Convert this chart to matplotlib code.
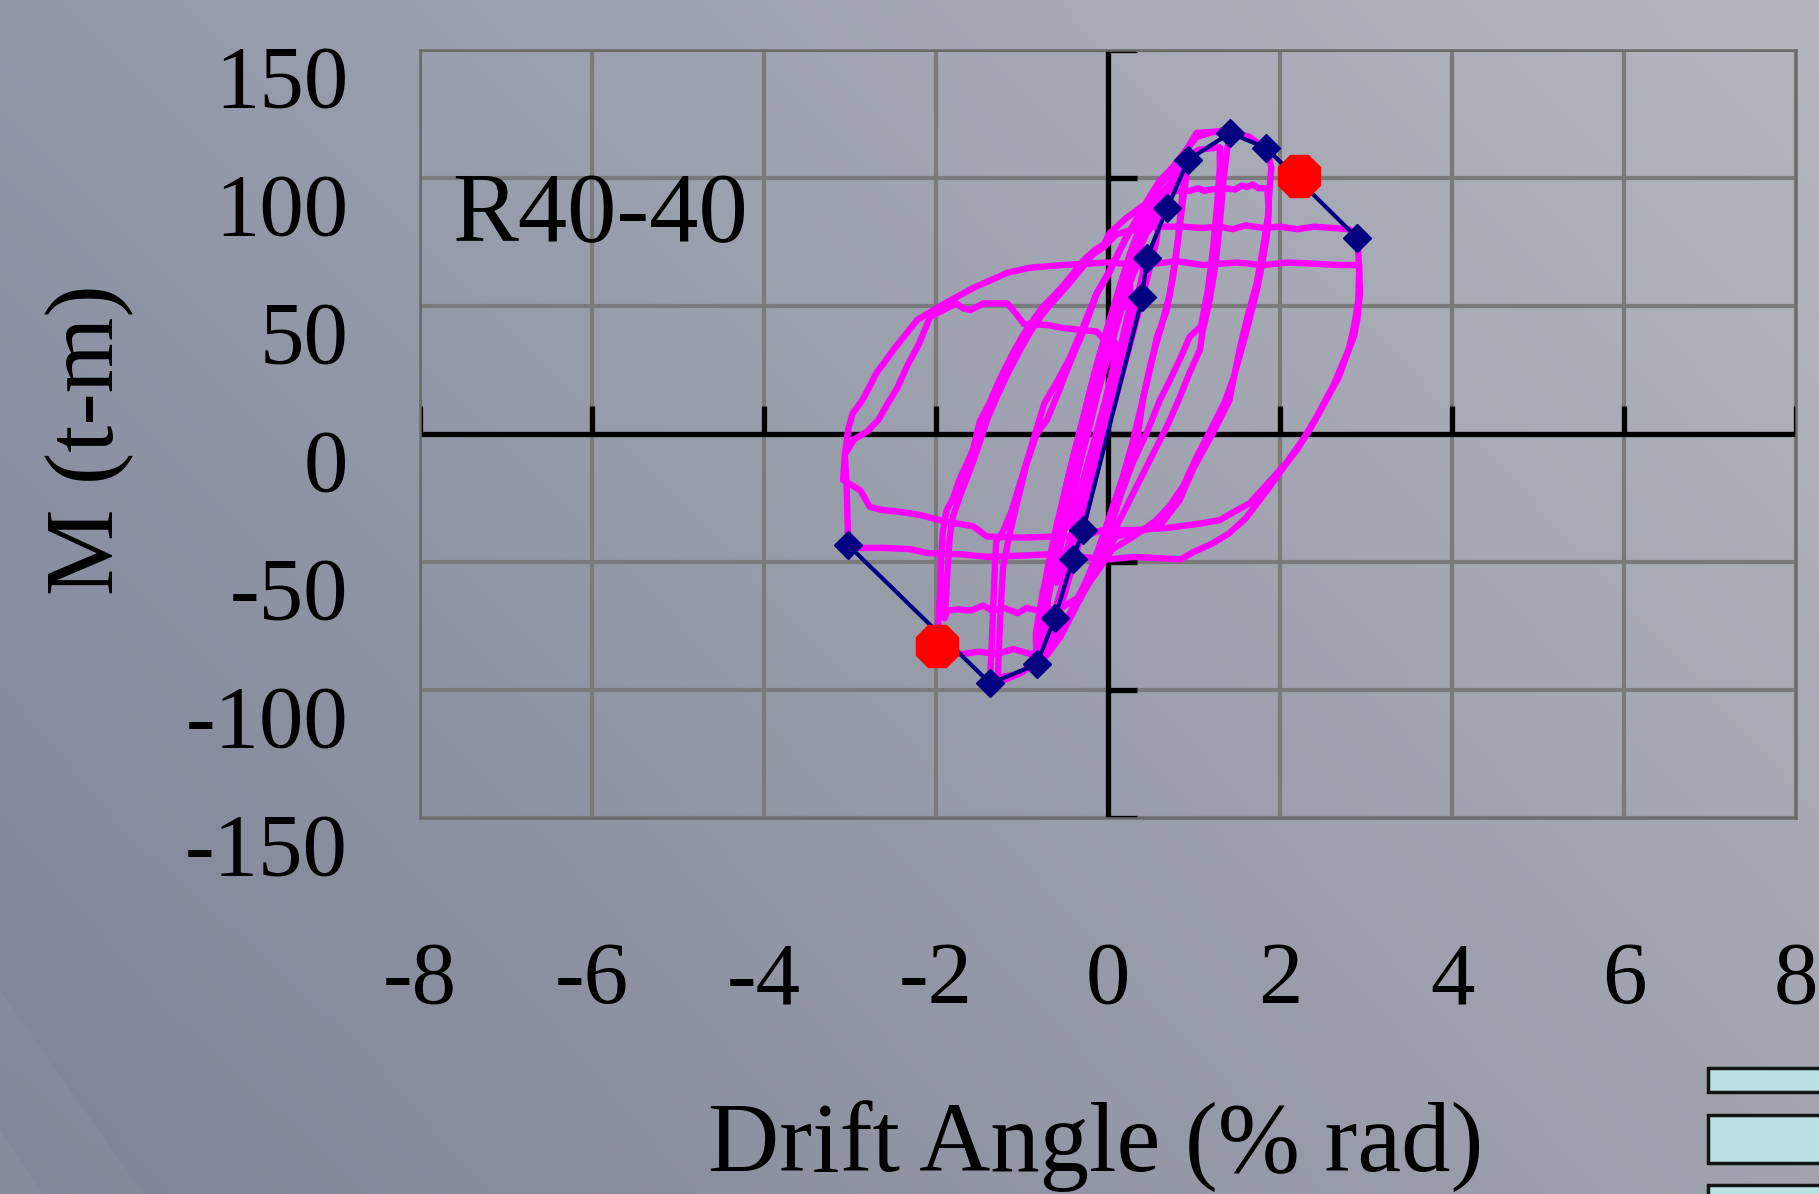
import numpy as np
import matplotlib
matplotlib.use('Agg')
import matplotlib.pyplot as plt
from matplotlib import transforms
from matplotlib.patches import Rectangle, Polygon

plt.rcParams['font.family'] = ['Liberation Serif', 'DejaVu Serif']

# ---------------- data ----------------
x_ticks = [-8, -6, -4, -2, 0, 2, 4, 6, 8]
x_tick_labels = ['-8', '-6', '-4', '-2', '0', '2', '4', '6', '8']
y_ticks = [-150, -100, -50, 0, 50, 100, 150]
y_tick_labels = ['-150', '-100', '-50', '0', '50', '100', '150']

specimen_label = 'R40-40'
x_label = 'Drift Angle (% rad)'
y_label = 'M (t-m)'

# envelope (skeleton) curve
env_x = [-3.02, -1.37, -0.83, -0.62, -0.41, -0.29, 0.40, 0.45, 0.69, 0.93, 1.42, 1.84, 2.90]
env_y = [-43.4, -97.4, -90.0, -72.0, -49.0, -37.5, 53.5, 68.7, 88.3, 107.0, 117.6, 111.7, 76.5]

# ultimate (85% of peak) points
ult_x = [-1.99, 2.22]
ult_y = [-83.0, 100.8]

# hysteresis loops, segment by segment (drift %, moment t-m)
elastic_1 = [(-0.46, -36), (-0.40, -22), (-0.30, -8), (-0.22, 2), (-0.12, 16), (0.00, 30), (0.08, 36),
             (0.06, 26), (-0.04, 12), (-0.14, 0), (-0.24, -12), (-0.34, -24), (-0.46, -36)]
elastic_2 = [(-0.60, -58), (-0.56, -45), (-0.47, -32), (-0.38, -18), (-0.30, -6), (-0.22, 5), (-0.10, 20),
             (0.04, 35), (0.15, 48), (0.26, 58), (0.24, 48), (0.14, 33), (0.03, 18), (-0.08, 4),
             (-0.18, -10), (-0.28, -22), (-0.40, -36), (-0.50, -48), (-0.60, -58)]
elastic_3 = [(-0.72, -78), (-0.70, -65), (-0.62, -52), (-0.52, -38), (-0.42, -24), (-0.33, -10), (-0.26, 0),
             (-0.14, 16), (0.02, 34), (0.16, 50), (0.30, 63), (0.42, 72), (0.40, 62), (0.30, 48),
             (0.18, 32), (0.06, 17), (-0.06, 2), (-0.16, -12), (-0.27, -28), (-0.40, -44), (-0.52, -58),
             (-0.63, -70), (-0.72, -78)]
elastic_4 = [(-0.78, -88), (-0.77, -75), (-0.70, -60), (-0.60, -45), (-0.50, -30), (-0.40, -14), (-0.32, -2),
             (-0.20, 14), (-0.05, 32), (0.10, 50), (0.27, 66), (0.44, 78), (0.60, 85), (0.56, 75),
             (0.45, 60), (0.32, 43), (0.20, 28), (0.08, 13), (-0.04, -1), (-0.14, -15), (-0.26, -32),
             (-0.38, -48), (-0.50, -62), (-0.62, -75), (-0.72, -84), (-0.80, -88)]
cycle_1a = [(-0.80, -88), (-0.80, -78), (-0.72, -62), (-0.60, -45), (-0.50, -30), (-0.38, -12), (-0.25, 5),
            (-0.10, 25), (0.10, 48), (0.30, 68), (0.50, 82), (0.69, 92), (0.85, 102), (0.93, 107),
            (0.90, 98), (0.86, 88), (0.80, 72), (0.72, 55), (0.62, 42), (0.50, 28), (0.41, 14.5),
            (0.34, -2), (0.22, -14), (0.06, -28.5), (-0.08, -42), (-0.22, -55), (-0.38, -68),
            (-0.55, -79), (-0.70, -86), (-0.83, -90)]
cycle_1b = [(-0.83, -90), (-0.84, -78), (-0.76, -62), (-0.65, -46), (-0.55, -30), (-0.45, -15), (-0.33, 0),
            (-0.20, 18), (-0.02, 40), (0.18, 62), (0.40, 80), (0.60, 93), (0.80, 101), (0.88, 103),
            (0.86, 92), (0.82, 78), (0.76, 62), (0.68, 48), (0.57, 38), (0.48, 24), (0.38, 10),
            (0.28, -4), (0.16, -18), (0.02, -32), (-0.12, -46), (-0.30, -62), (-0.50, -75),
            (-0.68, -84), (-0.80, -88)]
cycle_15a = [(-0.80, -88), (-0.78, -70), (-0.70, -52), (-0.60, -36), (-0.50, -22), (-0.40, -8), (-0.30, 5),
             (-0.15, 25), (0.05, 48), (0.25, 70), (0.45, 88), (0.65, 100), (0.84, 108), (1.03, 116),
             (1.22, 118), (1.42, 117.6), (1.38, 110), (1.34, 98), (1.30, 82), (1.25, 66), (1.18, 52),
             (1.10, 40), (1.07, 33), (0.95, 24), (0.83, 14), (0.70, 4), (0.55, -6), (0.40, -16),
             (0.25, -26), (0.10, -36), (-0.05, -46), (-0.25, -60), (-0.50, -75), (-0.75, -87),
             (-1.00, -93), (-1.20, -96), (-1.37, -97)]
cycle_15b = [(-1.37, -97), (-1.36, -88), (-1.34, -72), (-1.32, -55), (-1.30, -42), (-1.22, -38), (-1.12, -30),
             (-1.03, -20), (-0.92, -8), (-0.83, 2), (-0.74, 12), (-0.60, 20), (-0.44, 30), (-0.29, 42),
             (-0.13, 55), (0.02, 64), (0.20, 76), (0.42, 88), (0.62, 98), (0.85, 106), (1.05, 111),
             (1.30, 112), (1.30, 104), (1.27, 90), (1.22, 72), (1.16, 56), (1.08, 42), (0.95, 38),
             (0.86, 31), (0.72, 21), (0.60, 13), (0.45, 0.4), (0.29, -11), (0.14, -24.6), (0.02, -37.5),
             (-0.15, -50), (-0.35, -64), (-0.60, -80), (-0.85, -90), (-1.05, -94), (-1.28, -95),
             (-1.27, -85), (-1.25, -70), (-1.22, -52), (-1.15, -40), (-1.05, -26), (-0.95, -12),
             (-0.83, 0), (-0.71, 5.5), (-0.58, 16), (-0.44, 28), (-0.29, 40), (-0.13, 55), (0.00, 62),
             (0.20, 76), (0.40, 88), (0.60, 99), (0.84, 107)]
cycle_2a = [(0.84, 107), (1.03, 117.6), (1.22, 118), (1.38, 118.7), (1.65, 116), (1.85, 111), (1.90, 104),
            (1.88, 96.5), (1.86, 85), (1.80, 72), (1.73, 59), (1.62, 45.7), (1.53, 33), (1.41, 13),
            (1.22, 0.4), (1.00, -13), (0.83, -26), (0.60, -36), (0.35, -38), (0.10, -40), (-0.10, -48),
            (-0.30, -62), (-0.50, -74), (-0.70, -83), (-0.90, -86), (-1.10, -84), (-1.30, -86),
            (-1.50, -85), (-1.70, -86), (-1.84, -85), (-1.99, -83),
            (-1.97, -72), (-1.95, -60), (-1.94, -48), (-1.92, -38), (-1.88, -30), (-1.80, -25),
            (-1.73, -18), (-1.62, -10), (-1.57, -6), (-1.49, 5), (-1.38, 12), (-1.25, 22), (-1.10, 32),
            (-0.99, 38.5), (-0.86, 45), (-0.75, 50), (-0.63, 54), (-0.52, 58), (-0.40, 63), (-0.28, 68),
            (-0.15, 72), (-0.05, 74), (0.02, 78.5), (0.20, 84), (0.40, 89), (0.60, 93), (0.80, 95),
            (0.95, 95), (1.05, 96), (1.12, 95), (1.20, 95.5), (1.35, 96), (1.48, 95.5), (1.55, 97),
            (1.62, 96.5), (1.68, 97.5), (1.75, 96), (1.85, 96)]
cycle_2b = [(1.85, 96), (1.87, 88), (1.85, 78), (1.80, 68), (1.73, 56), (1.64, 44), (1.56, 34), (1.46, 22),
            (1.35, 12), (1.20, 2), (1.03, -9), (0.88, -20), (0.72, -28), (0.55, -34), (0.30, -40),
            (0.05, -45), (-0.15, -55), (-0.35, -64), (-0.55, -68), (-0.80, -69), (-0.95, -68),
            (-1.05, -70), (-1.20, -68), (-1.35, -69), (-1.45, -67), (-1.60, -69), (-1.75, -68.5),
            (-1.87, -69), (-1.90, -72),
            (-1.88, -62), (-1.86, -50), (-1.84, -40), (-1.80, -32), (-1.73, -25), (-1.65, -18),
            (-1.56, -10), (-1.48, -2), (-1.40, 6), (-1.30, 14), (-1.16, 24), (-1.02, 33), (-0.90, 40),
            (-0.78, 46), (-0.66, 51), (-0.55, 55), (-0.42, 60), (-0.30, 65), (-0.18, 70), (-0.05, 73),
            (0.10, 78), (0.30, 80), (0.50, 81), (0.87, 81)]
cycle_3a = [(0.87, 81), (1.10, 80.5), (1.30, 81), (1.45, 80), (1.60, 81.5), (1.80, 80.5), (2.00, 81),
            (2.20, 80), (2.40, 81), (2.60, 80.5), (2.80, 80), (2.90, 76.5),
            (2.92, 65), (2.91, 52), (2.86, 42), (2.80, 33), (2.68, 22), (2.50, 11), (2.35, 2),
            (2.20, -6), (2.02, -14), (1.85, -22), (1.60, -33), (1.40, -39), (1.20, -43), (1.00, -46),
            (0.84, -49), (0.60, -48.5), (0.30, -48), (0.00, -49), (-0.30, -48), (-0.71, -47),
            (-1.00, -47.5), (-1.41, -48), (-1.70, -47), (-2.10, -46.5), (-2.30, -45), (-2.60, -44.5),
            (-2.92, -44.5), (-3.02, -43.4),
            (-3.03, -32), (-3.04, -20), (-3.06, -8), (-3.02, 2), (-2.97, 8), (-2.86, 13), (-2.78, 18),
            (-2.69, 24), (-2.60, 28), (-2.48, 33.6), (-2.35, 39), (-2.22, 44.5), (-2.07, 47.6),
            (-1.90, 51), (-1.76, 53.5), (-1.57, 57), (-1.41, 59.4), (-1.30, 61), (-1.17, 63),
            (-0.90, 65), (-0.52, 66), (0.00, 67), (0.40, 66), (0.80, 67.5), (1.10, 66), (1.50, 67),
            (1.80, 66), (2.10, 67), (2.40, 66.5), (2.70, 66), (2.92, 66)]
cycle_3b = [(2.92, 66), (2.93, 55), (2.90, 45), (2.86, 38), (2.76, 30), (2.62, 19), (2.43, 7), (2.27, -2),
            (2.08, -11), (1.92, -17), (1.65, -27), (1.46, -30.5), (1.30, -33.6), (1.07, -35),
            (0.69, -36.7), (0.30, -37.5), (-0.06, -37.5), (-0.30, -40), (-0.59, -40), (-1.00, -40.5),
            (-1.41, -40), (-1.57, -36), (-1.75, -35), (-1.92, -34), (-2.19, -31.6), (-2.40, -30.5),
            (-2.62, -29.7), (-2.77, -28.5), (-2.88, -22), (-3.08, -18),
            (-3.06, -8), (-2.95, -2), (-2.80, 1), (-2.67, 5.5), (-2.56, 12), (-2.45, 18), (-2.33, 27),
            (-2.20, 35), (-2.07, 45.7), (-1.88, 49), (-1.76, 51), (-1.68, 49), (-1.60, 48.4),
            (-1.45, 51), (-1.17, 51), (-1.07, 47), (-0.98, 43), (-0.71, 42.6), (-0.52, 41.4),
            (-0.13, 40), (-0.01, 35.5)]

loop_segments = [elastic_1, elastic_2, elastic_3, elastic_4, cycle_1a, cycle_1b,
                 cycle_15a, cycle_15b, cycle_2a, cycle_2b, cycle_3a, cycle_3b]

# ---------------- figure ----------------
W, H, DPI = 1819, 1194, 100
fig = plt.figure(figsize=(W / DPI, H / DPI), dpi=DPI)

# slide background gradient
bg = fig.add_axes([0, 0, 1, 1], zorder=-10)
gx = np.linspace(0, 1, 300)[None, :]
gy = np.linspace(0, 1, 200)[:, None]
c_bl = np.array([126, 131, 150]) / 255
c_br = np.array([160, 164, 175]) / 255
c_tl = np.array([145, 152, 168]) / 255
c_tr = np.array([180, 183, 190]) / 255
img = ((1 - gx)[..., None] * (1 - gy)[..., None] * c_bl + gx[..., None] * (1 - gy)[..., None] * c_br +
       (1 - gx)[..., None] * gy[..., None] * c_tl + gx[..., None] * gy[..., None] * c_tr)
bg.imshow(img, extent=[0, 1, 0, 1], origin='lower', aspect='auto', interpolation='bilinear')
bg.add_patch(Polygon([(0, 1 - 990 / H), (143 / W, 0), (0, 0)], closed=True, facecolor='white',
                     alpha=0.035, edgecolor='none'))
bg.add_patch(Polygon([(0, 1 - 1130 / H), (43 / W, 0), (0, 0)], closed=True, facecolor='white',
                     alpha=0.035, edgecolor='none'))
bg.set_xlim(0, 1)
bg.set_ylim(0, 1)
bg.axis('off')

# bottom-right slide buttons
for top, bot in [(1068, 1092), (1115, 1163), (1185, 1230)]:
    fig.patches.append(Rectangle((1708 / W, 1 - bot / H), 0.2, (bot - top) / H, transform=fig.transFigure,
                                 facecolor='#b9e0e3', edgecolor='#151515', linewidth=2.5, zorder=1))

ax_l, ax_r, ax_t, ax_b = 420, 1796, 50, 818
ax = fig.add_axes([ax_l / W, 1 - ax_b / H, (ax_r - ax_l) / W, (ax_b - ax_t) / H])
ax.set_facecolor('none')
ax.set_xlim(-8, 8)
ax.set_ylim(-150, 150)
ax.set_xticks(x_ticks)
ax.set_yticks(y_ticks)
ax.tick_params(length=0, labelbottom=False, labelleft=False)
ax.grid(True, color='#7a7a7a', linewidth=3.0, zorder=0)
ax.set_axisbelow(True)
for s in ax.spines.values():
    s.set_color('#6a6a6a')
    s.set_linewidth(1.8)

# crossing axes with tick marks
ax.axhline(0, color='black', linewidth=3.8, zorder=2)
ax.axvline(0, color='black', linewidth=3.8, zorder=2)
ax.vlines(x_ticks, 0, 11, color='black', linewidth=3.8, zorder=2)
ax.hlines(y_ticks, 0, 0.34, color='black', linewidth=3.8, zorder=2)

for seg in loop_segments:
    sx = [p[0] for p in seg]
    sy = [p[1] for p in seg]
    ax.plot(sx, sy, color='#ff00ff', linewidth=4.6, zorder=3, solid_joinstyle='round',
            solid_capstyle='round')

ax.plot(env_x, env_y, color='#000080', linewidth=3.0, marker='D', markersize=14,
        markerfacecolor='#000080', markeredgecolor='#000080', zorder=4)
ax.plot(ult_x, ult_y, linestyle='none', marker='8', markersize=32, color='#ff0000', zorder=5)

# tick labels (offset like the original Excel chart)
ylab_tr = transforms.blended_transform_factory(ax.transAxes, ax.transData) + \
    transforms.ScaledTranslation(0, -57 / DPI, fig.dpi_scale_trans)
for v, t in zip(y_ticks, y_tick_labels):
    ax.text((348 - ax_l) / (ax_r - ax_l), v, t, transform=ylab_tr, ha='right', va='baseline',
            fontsize=64, color='black', clip_on=False)
xlab_tr = transforms.blended_transform_factory(ax.transData, ax.transAxes)
for v, t in zip(x_ticks, x_tick_labels):
    ax.text(v, (H - 1003 - (H - ax_b)) / (ax_b - ax_t), t, transform=xlab_tr, ha='center', va='baseline',
            fontsize=64, color='black', clip_on=False)

ax.text((452 - ax_l) / (ax_r - ax_l), (ax_b - 241) / (ax_b - ax_t), specimen_label,
        transform=ax.transAxes, ha='left', va='baseline', fontsize=71, color='black')

fig.text(1096 / W, 22 / H, x_label, ha='center', va='baseline', fontsize=71, color='black')
fig.text(90 / W, 1 - 440 / H, y_label, ha='center', va='center', rotation=90, fontsize=70, color='black')

fig.savefig('out.png', dpi=DPI)
